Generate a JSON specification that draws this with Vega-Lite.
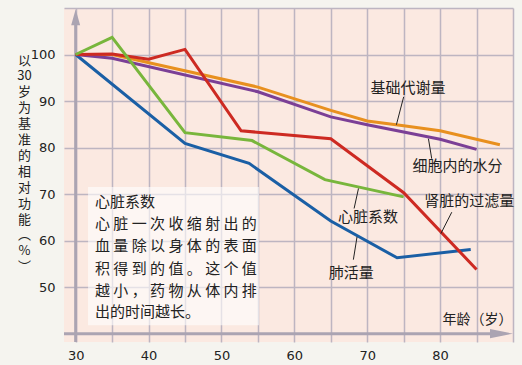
{
  "$schema": "https://vega.github.io/schema/vega-lite/v6.json",
  "width": 449,
  "height": 334,
  "autosize": {"type": "none"},
  "padding": {"left": 64, "top": 8, "right": 9, "bottom": 23},
  "background": "#f5f4ef",
  "view": {"fill": "#fbe9e1", "stroke": null},
  "config": {"font": "Noto Sans CJK SC"},
  "datasets": {
    "series": [
      {"series": "肺活量", "age": 30, "pct": 100},
      {"series": "肺活量", "age": 45, "pct": 80.9},
      {"series": "肺活量", "age": 53.8, "pct": 76.6},
      {"series": "肺活量", "age": 65, "pct": 64.2},
      {"series": "肺活量", "age": 74.1, "pct": 56.3},
      {"series": "肺活量", "age": 84.2, "pct": 58.1},
      {"series": "基础代谢量", "age": 30, "pct": 100},
      {"series": "基础代谢量", "age": 35, "pct": 100},
      {"series": "基础代谢量", "age": 55, "pct": 93},
      {"series": "基础代谢量", "age": 65, "pct": 88},
      {"series": "基础代谢量", "age": 70, "pct": 85.7},
      {"series": "基础代谢量", "age": 75, "pct": 84.7},
      {"series": "基础代谢量", "age": 80, "pct": 83.6},
      {"series": "基础代谢量", "age": 88.2, "pct": 80.6},
      {"series": "细胞内的水分", "age": 30, "pct": 100},
      {"series": "细胞内的水分", "age": 35, "pct": 99.2},
      {"series": "细胞内的水分", "age": 55, "pct": 92},
      {"series": "细胞内的水分", "age": 65, "pct": 86.6},
      {"series": "细胞内的水分", "age": 70, "pct": 84.9},
      {"series": "细胞内的水分", "age": 80, "pct": 81.8},
      {"series": "细胞内的水分", "age": 85, "pct": 79.6},
      {"series": "肾脏的过滤量", "age": 30, "pct": 100},
      {"series": "肾脏的过滤量", "age": 35, "pct": 100.1},
      {"series": "肾脏的过滤量", "age": 40, "pct": 99},
      {"series": "肾脏的过滤量", "age": 45, "pct": 101.1},
      {"series": "肾脏的过滤量", "age": 52.7, "pct": 83.6},
      {"series": "肾脏的过滤量", "age": 65, "pct": 81.9},
      {"series": "肾脏的过滤量", "age": 75, "pct": 70.3},
      {"series": "肾脏的过滤量", "age": 85, "pct": 53.8},
      {"series": "心脏系数", "age": 30, "pct": 100},
      {"series": "心脏系数", "age": 35, "pct": 103.7},
      {"series": "心脏系数", "age": 45, "pct": 83.2},
      {"series": "心脏系数", "age": 54.2, "pct": 81.5},
      {"series": "心脏系数", "age": 64.2, "pct": 73.1},
      {"series": "心脏系数", "age": 75, "pct": 69.4}
    ],
    "labels": [
      {"text": "基础代谢量", "age": 75.6, "pct": 92.85},
      {"text": "细胞内的水分", "age": 82.4, "pct": 76.0},
      {"text": "肾脏的过滤量", "age": 84.0, "pct": 68.5},
      {"text": "心脏系数", "age": 70.1, "pct": 65.05},
      {"text": "肺活量", "age": 67.8, "pct": 53.1}
    ],
    "leaders": [
      {"age": 75.0, "pct": 90.9, "age2": 74.0, "pct2": 84.9},
      {"age": 78.4, "pct": 81.9, "age2": 78.85, "pct2": 77.6},
      {"age": 81.6, "pct": 66.1, "age2": 80.1, "pct2": 61.5},
      {"age": 68.8, "pct": 71.2, "age2": 68.2, "pct2": 66.9},
      {"age": 68.6, "pct": 60.8, "age2": 68.1, "pct2": 55.9}
    ],
    "box": [
      {"age": 31.7, "pct": 71.5, "age2": 55.15, "pct2": 41.8}
    ],
    "boxtext": [
      {"line": "心脏系数", "age": 32.65, "pct": 68.4},
      {"line": "心 脏 一 次 收 缩 射 出 的", "age": 32.65, "pct": 63.5},
      {"line": "血 量 除 以 身 体 的 表 面", "age": 32.65, "pct": 58.8},
      {"line": "积 得 到 的 值 。 这 个 值", "age": 32.65, "pct": 54.0},
      {"line": "越 小 ， 药 物 从 体 内 排", "age": 32.65, "pct": 49.2},
      {"line": "出的时间越长。", "age": 32.65, "pct": 44.6}
    ],
    "axislines": [
      {"age": 30, "pct": 38.2, "age2": 30, "pct2": 107},
      {"age": 28.4, "pct": 40, "age2": 88.5, "pct2": 40}
    ],
    "arrows": [
      {"dir": "up", "age": 30, "pct": 108.0},
      {"dir": "right", "age": 88.42, "pct": 40}
    ]
  },
  "encoding": {
    "x": {
      "field": "age",
      "type": "quantitative",
      "scale": {"domain": [28.4, 90], "nice": false, "zero": false},
      "axis": {
        "values": [30, 35, 40, 45, 50, 55, 60, 65, 70, 75, 80, 85, 90],
        "labelExpr": "(datum.value % 10 == 0 && datum.value <= 80) ? datum.label : ''",
        "grid": true,
        "gridColor": "#bdb5c1",
        "gridWidth": 1.5,
        "domain": false,
        "ticks": false,
        "tickSize": 0,
        "labelFlush": false,
        "labelOverlap": false,
        "labelBound": false,
        "labelFont": "DejaVu Sans",
        "labelFontSize": 13,
        "labelColor": "#222222",
        "labelBaseline": "alphabetic",
        "labelPadding": 17,
        "title": "年龄（岁）",
        "titleFont": "Noto Sans CJK SC",
        "titleFontSize": 14,
        "titleFontWeight": "normal",
        "titleColor": "#222222",
        "titleAnchor": null,
        "titleAlign": "right",
        "titleBaseline": "middle",
        "titleX": 448,
        "titleY": -23
      }
    },
    "y": {
      "field": "pct",
      "type": "quantitative",
      "scale": {"domain": [38.2, 110], "nice": false, "zero": false},
      "axis": {
        "values": [50, 60, 70, 80, 90, 100, 110],
        "labelExpr": "datum.value <= 100 ? datum.label : ''",
        "grid": true,
        "gridColor": "#bdb5c1",
        "gridWidth": 1.5,
        "domain": false,
        "ticks": false,
        "tickSize": 0,
        "labelFlush": false,
        "labelOverlap": false,
        "labelBound": false,
        "labelFont": "DejaVu Sans",
        "labelFontSize": 13,
        "labelColor": "#222222",
        "labelBaseline": "middle",
        "labelPadding": 9,
        "title": ["以", "30", "岁", "为", "基", "准", "的", "相", "对", "功", "能", "︵", "%", "︶"],
        "titleFont": "Noto Sans CJK SC",
        "titleFontSize": 13,
        "titleFontWeight": "normal",
        "titleColor": "#222222",
        "titleAngle": 0,
        "titleAnchor": null,
        "titleAlign": "center",
        "titleBaseline": "top",
        "titleLineHeight": 15.9,
        "titleX": -40,
        "titleY": 46
      }
    }
  },
  "layer": [
    {
      "data": {"name": "box"},
      "mark": {"type": "rect", "fill": "#ffffff", "opacity": 0.6},
      "encoding": {"x2": {"field": "age2"}, "y2": {"field": "pct2"}}
    },
    {
      "data": {"name": "axislines"},
      "mark": {"type": "rule", "stroke": "#aba4b2", "strokeWidth": 3},
      "encoding": {"x2": {"field": "age2"}, "y2": {"field": "pct2"}}
    },
    {
      "data": {"name": "arrows"},
      "mark": {"type": "point", "filled": true, "opacity": 1, "color": "#aba4b2", "size": 529},
      "encoding": {
        "shape": {
          "field": "dir",
          "type": "nominal",
          "scale": {"domain": ["up", "right"], "range": ["M0,-0.7L0.39,0.7L-0.39,0.7Z", "M1,0L-1,-0.4L-1,0.4Z"]},
          "legend": null
        }
      }
    },
    {
      "data": {"name": "series"},
      "mark": {"type": "line", "strokeWidth": 3, "strokeJoin": "miter"},
      "encoding": {
        "color": {
          "field": "series",
          "type": "nominal",
          "scale": {
            "domain": ["肺活量", "基础代谢量", "细胞内的水分", "肾脏的过滤量", "心脏系数"],
            "range": ["#1a5fa5", "#e8901f", "#7b3f96", "#cd2a22", "#78b63c"]
          },
          "legend": null
        }
      }
    },
    {
      "data": {"name": "leaders"},
      "mark": {"type": "rule", "stroke": "#222222", "strokeWidth": 1},
      "encoding": {"x2": {"field": "age2"}, "y2": {"field": "pct2"}}
    },
    {
      "data": {"name": "labels"},
      "mark": {"type": "text", "fontSize": 15, "color": "#222222", "align": "center", "baseline": "middle", "font": "Noto Sans CJK SC"},
      "encoding": {"text": {"field": "text"}}
    },
    {
      "data": {"name": "boxtext"},
      "mark": {"type": "text", "fontSize": 15, "color": "#222222", "align": "left", "baseline": "middle", "font": "Noto Sans CJK SC"},
      "encoding": {"text": {"field": "line"}}
    }
  ]
}
